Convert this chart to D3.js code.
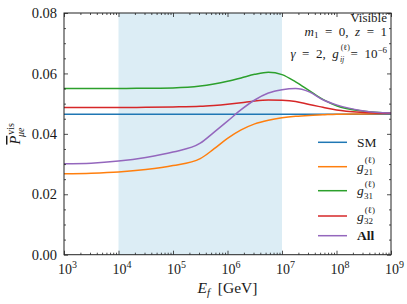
<!DOCTYPE html>
<html><head><meta charset="utf-8">
<script src="https://cdn.jsdelivr.net/npm/d3@7"></script>
<style>
body{margin:0;background:#fff}
svg{display:block}
text{font-family:'Liberation Serif','DejaVu Serif',serif;fill:#1a1a1a}
</style>
</head><body><svg id="c" width="407" height="304"></svg>
<script>
// ---- data ----
const logE   = [3, 3.5, 4, 4.5, 5, 5.5, 5.75, 6, 6.25, 6.5, 6.75, 7, 7.25, 7.5, 7.75, 8, 8.5, 9];
const smVals = [0.0465,0.0465,0.0465,0.0465,0.0465,0.0465,0.0465,0.0465,0.0465,0.0465,0.0465,0.0465,0.0465,0.0465,0.0465,0.0465,0.0465,0.0465];
const g21Vals= [0.0268,0.0270,0.0274,0.0282,0.0295,0.0318,0.0350,0.0385,0.0413,0.0433,0.0445,0.0453,0.0458,0.0461,0.0463,0.0465,0.0466,0.0467];
const g31Vals= [0.0550,0.0550,0.0550,0.0551,0.0552,0.0558,0.0565,0.0574,0.0585,0.0597,0.0604,0.0596,0.0572,0.0543,0.0514,0.0493,0.0475,0.0469];
const g32Vals= [0.0487,0.0487,0.0487,0.0488,0.0489,0.0491,0.0494,0.0498,0.0503,0.0509,0.0512,0.0511,0.0507,0.0497,0.0488,0.0479,0.0471,0.0468];
const allVals= [0.0301,0.0303,0.0310,0.0322,0.0340,0.0369,0.0405,0.0442,0.0480,0.0512,0.0535,0.0546,0.0550,0.0539,0.0513,0.0496,0.0476,0.0469];
const shadeRange = [1e4, 1e7];
const yTicks = [0, 0.02, 0.04, 0.06, 0.08];
const xTicks = [1e3,1e4,1e5,1e6,1e7,1e8,1e9];
const seriesNames = ["SM","g21","g31","g32","All"];
const seriesColors = ["#1f77b4","#ff7f0e","#2ca02c","#d62728","#9467bd"];
const seriesVals = [smVals,g21Vals,g31Vals,g32Vals,allVals];

// ---- layout ----
const L=64, T=13, R=391, B=254.7;
const NB="\u00a0", EQ="\u00a0\u00a0=\u00a0\u00a0";
const svg = d3.select("#c");
const x = d3.scaleLog().domain([1e3,1e9]).range([L,R]);
const y = d3.scaleLinear().domain([0,0.08]).range([B,T]);

// shaded band
svg.append("rect").attr("x",x(shadeRange[0])).attr("y",T)
  .attr("width",x(shadeRange[1])-x(shadeRange[0])).attr("height",B-T)
  .attr("fill","#dcedf5");

// lines
const line = d3.line().x(d=>x(Math.pow(10,d[0]))).y(d=>y(d[1])).curve(d3.curveMonotoneX);
seriesVals.forEach((vals,i)=>{
  svg.append("path").datum(logE.map((e,j)=>[e,vals[j]]))
    .attr("d",line).attr("fill","none").attr("stroke",seriesColors[i])
    .attr("stroke-width",1.5);
});

// minor ticks
const xMinor=[];
for(let e=3;e<9;e++) for(let m=2;m<10;m++) xMinor.push(m*Math.pow(10,e));
const yMinor=d3.range(0,0.0801,0.005).filter(v=>Math.abs(v/0.02-Math.round(v/0.02))>1e-6);

function axisG(axis, tx, ty){
  const g=svg.append("g").attr("transform",`translate(${tx},${ty})`).call(axis);
  g.attr("font-family",null);
  g.select(".domain").remove();
  g.selectAll("line").attr("stroke","#222").attr("stroke-width",0.8);
  return g;
}
// bottom
const gxb = axisG(d3.axisBottom(x).tickValues(xTicks).tickSizeInner(-4).tickSizeOuter(0).tickFormat(()=>""),0,B);
axisG(d3.axisBottom(x).tickValues(xMinor).tickSizeInner(-2).tickSizeOuter(0).tickFormat(()=>""),0,B);
gxb.selectAll(".tick").each(function(d){
  const t=d3.select(this).select("text").attr("y",19).attr("dy",0).attr("dx",3).attr("font-size",14).text(null);
  t.append("tspan").text("10");
  t.append("tspan").attr("dy",-6).attr("font-size",10).text(Math.round(Math.log10(d)));
});
// top
axisG(d3.axisTop(x).tickValues(xTicks).tickSizeInner(-4).tickSizeOuter(0).tickFormat(()=>""),0,T);
axisG(d3.axisTop(x).tickValues(xMinor).tickSizeInner(-2).tickSizeOuter(0).tickFormat(()=>""),0,T);
// left
const gyl = axisG(d3.axisLeft(y).tickValues(yTicks).tickSizeInner(-4).tickSizeOuter(0).tickPadding(7).tickFormat(d3.format(".2f")),L,0);
gyl.selectAll("text").attr("font-size",14.5);
axisG(d3.axisLeft(y).tickValues(yMinor).tickSizeInner(-2).tickSizeOuter(0).tickFormat(()=>""),L,0);
// right
axisG(d3.axisRight(y).tickValues(yTicks).tickSizeInner(-4).tickSizeOuter(0).tickFormat(()=>""),R,0);
axisG(d3.axisRight(y).tickValues(yMinor).tickSizeInner(-2).tickSizeOuter(0).tickFormat(()=>""),R,0);

// frame
svg.append("rect").attr("x",L).attr("y",T).attr("width",R-L).attr("height",B-T)
  .attr("fill","none").attr("stroke","#222").attr("stroke-width",1);

// x label
const xl = svg.append("text").attr("x",(L+R)/2).attr("y",293).attr("text-anchor","middle").attr("font-size",15.5);
xl.append("tspan").attr("font-style","italic").text("E");
xl.append("tspan").attr("font-style","italic").attr("font-size",11).attr("dy",3).text("f");
xl.append("tspan").attr("dy",-3).text(NB+NB+"[GeV]");

// y label
const yl = svg.append("text").attr("transform",`translate(20,${(T+B)/2}) rotate(-90)`).attr("text-anchor","middle").attr("font-size",14.5);
yl.append("tspan").attr("font-style","italic").attr("text-decoration","overline").text("P");
yl.append("tspan").attr("font-size",10).attr("dx",1).attr("dy",-6).text("vis");
yl.append("tspan").attr("font-style","italic").attr("font-size",10).attr("dx",-14).attr("dy",10).text("μe");

// annotation
const ax = 387;
svg.append("text").attr("x",ax).attr("y",22).attr("text-anchor","end").attr("font-size",13).text("Visible");
const a2 = svg.append("text").attr("x",ax).attr("y",35.5).attr("text-anchor","end").attr("font-size",13);
a2.append("tspan").attr("font-style","italic").text("m");
a2.append("tspan").attr("font-size",9).attr("dy",2).text("1");
a2.append("tspan").attr("dy",-2).text(EQ+"0,"+NB+NB);
a2.append("tspan").attr("font-style","italic").text("z");
a2.append("tspan").text(EQ+"1");
const a3 = svg.append("text").attr("x",ax).attr("y",57.5).attr("text-anchor","end").attr("font-size",13);
a3.append("tspan").attr("font-style","italic").text("γ");
a3.append("tspan").text(EQ+"2,"+NB+NB);
a3.append("tspan").attr("font-style","italic").text("g");
a3.append("tspan").attr("font-size",8).attr("dx",2).attr("dy",-7.5).text("(ℓ)");
a3.append("tspan").attr("font-size",8).attr("font-style","italic").attr("dx",-10).attr("dy",12).text("ij");
a3.append("tspan").attr("dx",3).attr("dy",-4.5).text(EQ.slice(1)+"10");
a3.append("tspan").attr("font-size",9).attr("dy",-5).text("−6");

// legend
const legY=[142.3,166.7,190.7,216,235.7];
seriesNames.forEach((n,i)=>{
  svg.append("line").attr("x1",318).attr("x2",347).attr("y1",legY[i]).attr("y2",legY[i])
    .attr("stroke",seriesColors[i]).attr("stroke-width",1.5);
  const t=svg.append("text").attr("x",357).attr("y",legY[i]+4.5).attr("font-size",13.5);
  if(n==="SM") t.text("SM");
  else if(n==="All") t.attr("font-weight","bold").text("All");
  else {
    t.append("tspan").attr("font-style","italic").text("g");
    t.append("tspan").attr("font-size",9).attr("dx",1).attr("dy",-8).text("(ℓ)");
    t.append("tspan").attr("font-size",9).attr("dx",-11).attr("dy",11.5).text(n.slice(1));
  }
});
</script></body></html>
